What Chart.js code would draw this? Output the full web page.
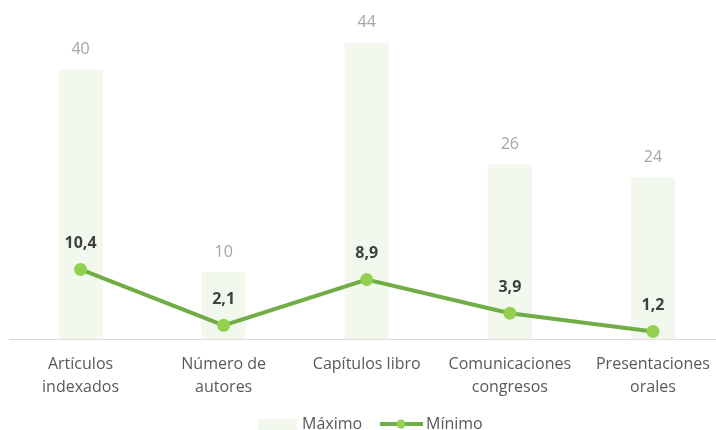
<!DOCTYPE html>
<html>
<head>
<meta charset="utf-8">
<script src="https://cdn.jsdelivr.net/npm/chart.js@4"></script>
<style>
    html, body { margin: 0; padding: 0; background: #fff; overflow: hidden; }
    #wrap { width: 731px; height: 430px; }
</style>
</head>
<body>
<div id="wrap"><canvas id="chart"></canvas></div>
<script>
const categories = [
    ['Artículos', 'indexados'],
    ['Número de', 'autores'],
    'Capítulos libro',
    ['Comunicaciones', 'congresos'],
    ['Presentaciones', 'orales']
];
const maximo = [40, 10, 44, 26, 24];
const minimo = [10.4, 2.1, 8.9, 3.9, 1.2];

const fontFamily = '"Open Sans", "Noto Sans", sans-serif';
const barColor = '#f2f8ee';
const lineColor = '#70ad47';
const pointColor = '#92d050';

function fmt(v) {
    return String(v).replace('.', ',');
}

// value labels above bars and points
const valueLabels = {
    id: 'valueLabels',
    afterDatasetsDraw(chart) {
        const ctx = chart.ctx;
        ctx.save();
        ctx.textAlign = 'center';
        ctx.textBaseline = 'middle';
        chart.getDatasetMeta(0).data.forEach(function (bar, i) {
            ctx.font = '16px ' + fontFamily;
            ctx.fillStyle = '#a5a5a5';
            ctx.fillText(fmt(maximo[i]), bar.x, bar.y - 20);
        });
        chart.getDatasetMeta(1).data.forEach(function (pt, i) {
            ctx.font = 'bold 16px ' + fontFamily;
            ctx.fillStyle = '#404040';
            ctx.fillText(fmt(minimo[i]), pt.x, pt.y - 26);
        });
        ctx.restore();
    }
};

// legend drawn at the bottom, like the original
const bottomLegend = {
    id: 'bottomLegend',
    afterDraw(chart) {
        const ctx = chart.ctx;
        const y = 424;
        ctx.save();
        ctx.font = '16px ' + fontFamily;
        ctx.textBaseline = 'middle';
        ctx.textAlign = 'left';

        ctx.fillStyle = barColor;
        ctx.fillRect(258, y - 5, 39, 11);
        ctx.fillStyle = '#595959';
        ctx.fillText('Máximo', 302, y);

        ctx.strokeStyle = lineColor;
        ctx.lineWidth = 4;
        ctx.beginPath();
        ctx.moveTo(380, y);
        ctx.lineTo(423, y);
        ctx.stroke();
        ctx.fillStyle = pointColor;
        ctx.beginPath();
        ctx.arc(401, y, 4.5, 0, Math.PI * 2);
        ctx.fill();
        ctx.fillStyle = '#595959';
        ctx.fillText('Mínimo', 426, y);
        ctx.restore();
    }
};

new Chart(document.getElementById('chart'), {
    data: {
        labels: categories,
        datasets: [
            {
                type: 'bar',
                label: 'Máximo',
                data: maximo,
                backgroundColor: barColor,
                barPercentage: 0.31,
                categoryPercentage: 1,
                order: 2
            },
            {
                type: 'line',
                label: 'Mínimo',
                data: minimo,
                borderColor: lineColor,
                borderWidth: 4,
                backgroundColor: pointColor,
                pointBackgroundColor: pointColor,
                pointBorderColor: pointColor,
                pointRadius: 6.5,
                pointBorderWidth: 0,
                tension: 0,
                order: 1
            }
        ]
    },
    options: {
        responsive: true,
        maintainAspectRatio: false,
        animation: false,
        layout: {
            padding: { left: 9, right: 0, top: 2, bottom: 20 }
        },
        scales: {
            x: {
                grid: { display: false },
                border: { display: true, color: '#d9d9d9', width: 1 },
                ticks: {
                    color: '#595959',
                    font: { family: fontFamily, size: 16, lineHeight: 1.45 },
                    maxRotation: 0,
                    autoSkip: false,
                    padding: 5
                },
                afterFit: function (scale) {
                    scale.height = 70.5;
                }
            },
            y: {
                display: false,
                min: 0,
                max: 49.4
            }
        },
        plugins: {
            legend: { display: false },
            tooltip: { enabled: false }
        }
    },
    plugins: [valueLabels, bottomLegend]
});
</script>
</body>
</html>
